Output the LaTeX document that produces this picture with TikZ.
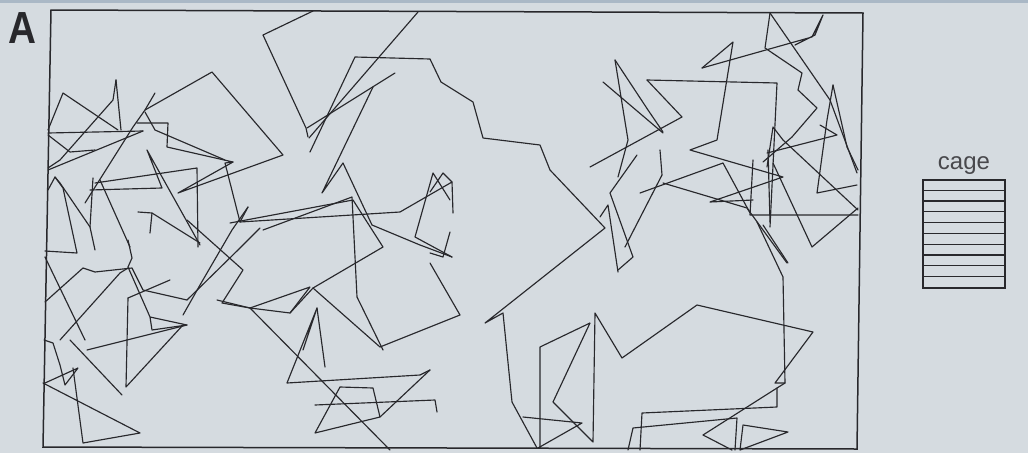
\documentclass[tikz,border=0pt]{standalone}
\usepackage{fontspec}
\usepackage{xcolor}
\usetikzlibrary{positioning}
\newfontfamily\labelfont{Liberation Sans}

\definecolor{paper}{RGB}{213,219,224}
\definecolor{band}{RGB}{170,184,198}
\definecolor{ink}{RGB}{40,40,44}

\tikzset{
  track/.style={draw=ink, line width=1.15pt, line join=round, line cap=round},
  frame/.style={draw=ink, line width=1.5pt},
  cagebox/.style={draw=ink, line width=1.3pt, minimum width=82pt, minimum height=108pt, inner sep=0pt},
}

\begin{document}
\begin{tikzpicture}[x=1pt,y=-1pt]
\useasboundingbox (0,0) rectangle (1028,453);
\fill [paper] (0,0) rectangle (1028,453);
\fill [band] (0,0) rectangle (1028,3);

% panel letter
\node [font=\labelfont\bfseries\fontsize{45}{45}\selectfont, text=ink, xscale=0.86, inner sep=0pt] (panel) at (22.5,28.5) {A};

% arena
\draw [frame] (51,10) -- (863,13) -- (857,449) -- (43,447) -- cycle;

% path of the animal, upper middle
\draw [track] (313,11) -- (263,35) -- (306,128) -- (308,137);
\draw [track] (309,138) -- (418,12);
\draw [track] (307,128) -- (395,73);
\draw [track] (310,152) -- (355,57) -- (430,59) -- (441,82) -- (473,102) -- (483,138) -- (540,145) -- (550,170) -- (605,228) -- (485,323) -- (503,313) -- (512,402) -- (537,448);
\draw [track] (540,448) -- (540,347) -- (590,323) -- (553,402) -- (593,442) -- (595,313) -- (622,358) -- (697,305) -- (813,332) -- (775,383) -- (785,383);
\draw [track] (757,222) -- (783,277) -- (785,383) -- (777,388) -- (777,407) -- (642,413) -- (640,450);
\draw [track] (763,225) -- (788,263);
\draw [track] (523,417) -- (582,423) -- (538,448);
\draw [track] (777,388) -- (703,435) -- (732,450);
\draw [track] (628,450) -- (633,428) -- (737,418) -- (735,450);
\draw [track] (740,450) -- (743,425) -- (788,432) -- cycle;
\draw [track] (773,163) -- (812,247) -- (858,208);

% left part
\draw [track] (45,251) -- (77,253) -- (63,188) -- (55,177) -- (48,190);
\draw [track] (48,170) -- (143,131);
\draw [track] (48,133) -- (143,131);
\draw [track] (48,130) -- (63,93) -- (118,130);
\draw [track] (116,80) -- (121,130);
\draw [track] (116,80) -- (113,100) -- (60,160) -- (48,168);
\draw [track] (48,135) -- (70,152) -- (95,150);
\draw [track] (155,93) -- (145,110) -- (133,127) -- (85,203);
\draw [track] (145,110) -- (212,72) -- (283,155) -- (178,193) -- (233,162);
\draw [track] (137,123) -- (168,123) -- (167,147) -- (233,162) -- (225,163) -- (240,222) -- (248,207);
\draw [track] (145,112) -- (155,130) -- (225,160);
\draw [track] (90,190) -- (162,188) -- (147,150) -- (200,245);
\draw [track] (95,183) -- (197,168) -- (198,247);
\draw [track] (55,177) -- (60,183) -- (90,227) -- (95,250);
\draw [track] (93,178) -- (90,227);
\draw [track] (100,180) -- (130,247);
\draw [track] (138,212) -- (152,213) -- (150,233);
\draw [track] (152,213) -- (200,243);

% lower left
\draw [track] (45,302) -- (83,268) -- (95,272) -- (132,268) -- (143,290) -- (187,300);
\draw [track] (128,240) -- (132,258) -- (128,267) -- (150,317) -- (187,325) -- (152,330) -- (150,317);
\draw [track] (128,298) -- (170,280);
\draw [track] (128,298) -- (126,387) -- (183,325);
\draw [track] (70,340) -- (122,395);
\draw [track] (45,257) -- (85,340);
\draw [track] (60,340) -- (120,273) -- (128,268);
\draw [track] (87,350) -- (187,325);
\draw [track] (43,383) -- (140,433) -- (83,443) -- (73,368);
\draw [track] (44,340) -- (53,343) -- (60,365) -- (65,385) -- (78,368) -- (45,383);
\draw [track] (187,220) -- (243,270) -- (222,303) -- (250,308);
\draw [track] (183,315) -- (200,285) -- (232,230) -- (248,207);
\draw [track] (187,300) -- (240,248) -- (260,228);

% lower middle
\draw [track] (230,223) -- (353,200) -- (383,247) -- (313,288) -- (290,313) -- (250,308) -- (217,300);
\draw [track] (240,222) -- (400,212) -- (452,182);
\draw [track] (450,200) -- (433,173) -- (415,237) -- (452,257);
\draw [track] (373,87) -- (322,193) -- (343,163) -- (372,225) -- (420,245) -- (452,257);
\draw [track] (263,230) -- (352,197) -- (357,297) -- (383,350);
\draw [track] (430,263) -- (460,315) -- (380,347) -- (313,288);
\draw [track] (430,253) -- (443,257) -- (450,232);
\draw [track] (250,308) -- (310,287) -- (290,313);
\draw [track] (303,350) -- (317,308) -- (287,383) -- (420,375) -- (430,370);
\draw [track] (317,308) -- (325,367);
\draw [track] (250,308) -- (390,450);
\draw [track] (315,405) -- (435,400) -- (437,412);
\draw [track] (315,433) -- (340,387) -- (373,388) -- (380,417) -- cycle;
\draw [track] (380,417) -- (430,370);
\draw [track] (430,192) -- (443,173) -- (452,182) -- (453,213);

% right part
\draw [track] (603,82) -- (663,133);
\draw [track] (615,60) -- (648,110) -- (663,132);
\draw [track] (615,60) -- (628,140) -- (618,177);
\draw [track] (647,80) -- (777,83) -- (770,227);
\draw [track] (647,80) -- (682,117) -- (590,167);
\draw [track] (702,68) -- (733,42) -- (717,140) -- (690,150) -- (783,177) -- (710,202) -- (753,200);
\draw [track] (702,68) -- (812,37) -- (823,15) -- (815,35) -- (795,45);
\draw [track] (770,13) -- (765,48) -- (802,73) -- (798,90) -- (817,108) -- (792,137) -- (763,162);
\draw [track] (770,13) -- (830,100) -- (857,173);
\draw [track] (833,85) -- (827,120) -- (817,193) -- (857,185);
\draw [track] (833,85) -- (847,147) -- (858,170);
\draw [track] (820,125) -- (837,135) -- (767,153);
\draw [track] (753,160) -- (750,215) -- (858,215);
\draw [track] (768,150) -- (770,222);
\draw [track] (640,193) -- (723,163) -- (750,213);
\draw [track] (663,183) -- (747,208) -- (787,263);
\draw [track] (637,155) -- (610,193) -- (633,257) -- (618,270);
\draw [track] (660,150) -- (662,175) -- (625,247);
\draw [track] (600,217) -- (608,205) -- (618,272);
\draw [track] (767,167) -- (773,127) -- (783,140) -- (858,210);

% cage
\node [cagebox] (cage) at (964,234) {};
\foreach \i in {1,...,9}
  \draw [ink, line width=1.1pt] ([yshift=-\i*10.8pt]cage.north west) -- ([yshift=-\i*10.8pt]cage.north east);
\node [above=2pt of cage, font=\labelfont\fontsize{24}{28}\selectfont, text=ink!85, inner sep=3pt] (cagelabel) {cage};
\end{tikzpicture}
\end{document}
